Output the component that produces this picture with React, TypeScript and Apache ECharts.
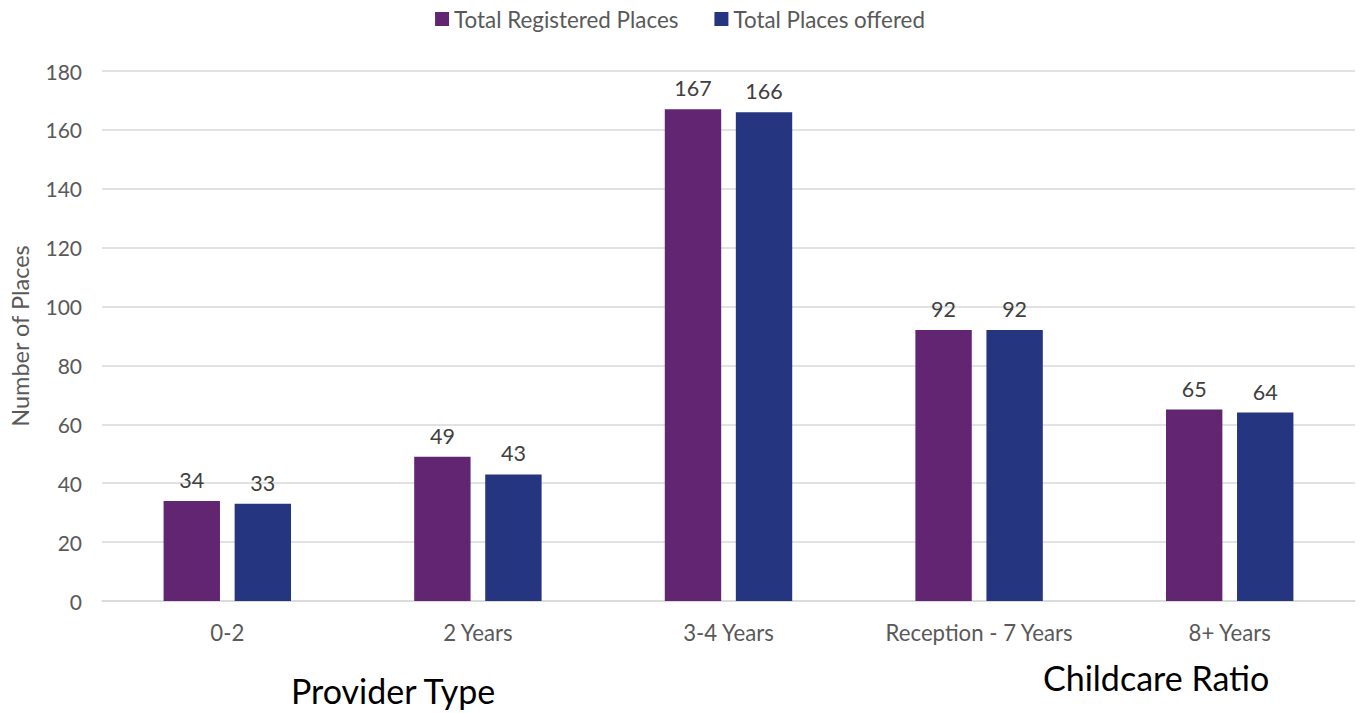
import React, { useEffect, useRef } from "react";
import * as echarts from "echarts";

const categories = ["0-2", "2 Years", "3-4 Years", "Reception - 7 Years", "8+ Years"];
const registeredPlaces = [34, 49, 167, 92, 65];
const placesOffered = [33, 43, 166, 92, 64];
const seriesNames = ["Total Registered Places", "Total Places offered"];

const FONT = "Lato, 'Open Sans', sans-serif";

export default function App() {
  const ref = useRef<HTMLDivElement>(null);
  useEffect(() => {
    const chart = echarts.init(ref.current!, null, { renderer: "svg" });
    const label = {
      show: true,
      position: "top",
      distance: 10,
      color: "#404040",
      fontSize: 21.5,
      fontFamily: FONT,
    };
    chart.setOption({
      animation: false,
      textStyle: { fontFamily: FONT },
      legend: {
        top: 3,
        left: "center",
        itemWidth: 14,
        itemHeight: 14,
        itemGap: 36,
        itemTextGap: 6,
        icon: "rect",
        textStyle: { color: "#595959", fontSize: 22.4, fontFamily: FONT },
        data: seriesNames,
      },
      grid: { left: 100, right: 5, top: 71, bottom: 112, containLabel: false },
      xAxis: {
        type: "category",
        data: categories,
        axisLine: { lineStyle: { color: "#d9d9d9", width: 1.5 } },
        axisTick: { show: false },
        axisLabel: { color: "#595959", fontSize: 22.2, fontFamily: FONT, margin: 20 },
      },
      yAxis: {
        type: "value",
        min: 0,
        max: 180,
        interval: 20,
        name: "Number of Places",
        nameLocation: "middle",
        nameGap: 70,
        nameTextStyle: { color: "#595959", fontSize: 23.5, fontFamily: FONT },
        axisLine: { show: false },
        axisTick: { show: false },
        splitLine: { lineStyle: { color: "#d9d9d9", width: 1.5 } },
        axisLabel: { color: "#595959", fontSize: 21, fontFamily: FONT, margin: 20 },
      },
      series: [
        {
          name: seriesNames[0],
          type: "bar",
          data: registeredPlaces,
          barWidth: "22.5%",
          barGap: "26%",
          itemStyle: { color: "#622572" },
          label,
        },
        {
          name: seriesNames[1],
          type: "bar",
          data: placesOffered,
          barWidth: "22.5%",
          itemStyle: { color: "#263580" },
          label,
        },
      ],
      graphic: [
        {
          type: "text",
          left: 291,
          top: 673,
          style: { text: "Provider Type", fontSize: 34, fill: "#000", fontFamily: FONT },
        },
        {
          type: "text",
          left: 1043,
          top: 660,
          style: { text: "Childcare Ratio", fontSize: 34, fill: "#000", fontFamily: FONT },
        },
      ],
    });
    return () => chart.dispose();
  }, []);
  return (
    <div
      ref={ref}
      style={{ position: "fixed", left: 0, top: 0, width: 1360, height: 713, background: "#fff" }}
    />
  );
}
